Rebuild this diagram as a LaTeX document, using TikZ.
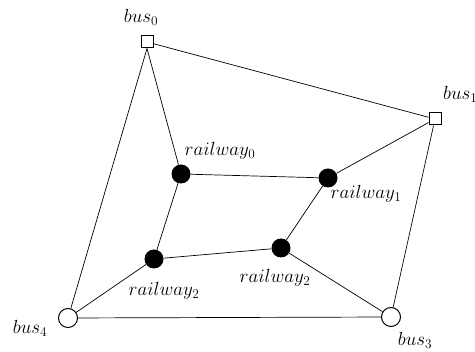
\RequirePackage{fix-cm}
\documentclass[tikz,border=0pt]{standalone}
\begin{document}
\begin{tikzpicture}[x=1pt,y=-1pt,
  bus/.style={draw,fill=white,line width=1pt,minimum size=12pt,inner sep=0pt},
  busc/.style={draw,fill=white,circle,line width=1pt,minimum size=19pt,inner sep=0pt},
  rail/.style={fill=black,circle,minimum size=19pt,inner sep=0pt},
  lab/.style={font=\fontsize{19}{22}\selectfont,inner sep=0pt},
  edge/.style={draw,line width=0.7pt}]
\useasboundingbox (0,0) rectangle (475,352);
\node[bus] (b0) at (147,42) {};
\node[bus] (b1) at (435,119) {};
\node[rail] (r0) at (181,174) {};
\node[rail] (r1) at (328,178) {};
\node[rail] (r2l) at (154,259) {};
\node[rail] (r2r) at (281,248) {};
\node[busc] (b4) at (68,318) {};
\node[busc] (b3) at (391,317) {};
\path[edge] (b0) -- (b1);
\path[edge] (b0.south) -- (r0);
\path[edge] (b0.south) -- (b4);
\path[edge] (b1) -- (r1);
\path[edge] (b1) -- (b3);
\path[edge] (r0) -- (r1);
\path[edge] (r0) -- (r2l);
\path[edge] (r1) -- (r2r);
\path[edge] (r2l) -- (r2r);
\path[edge] (r2l) -- (b4);
\path[edge] (r2r) -- (b3);
\path[edge] (b4) -- (b3);
\node[lab] (lb0) at (141,17) {$bus_0$};
\node[lab,anchor=west] (lb1) at (443,94) {$bus_1$};
\node[lab] (lr0) at (220,151) {$railway_0$};
\node[lab] (lr1) at (366,194) {$railway_1$};
\node[lab] (lr2l) at (164,291) {$railway_2$};
\node[lab] (lr2r) at (275,278) {$railway_2$};
\node[lab] (lb4) at (30,328) {$bus_4$};
\node[lab] (lb3) at (415,340) {$bus_3$};
\end{tikzpicture}
\end{document}
